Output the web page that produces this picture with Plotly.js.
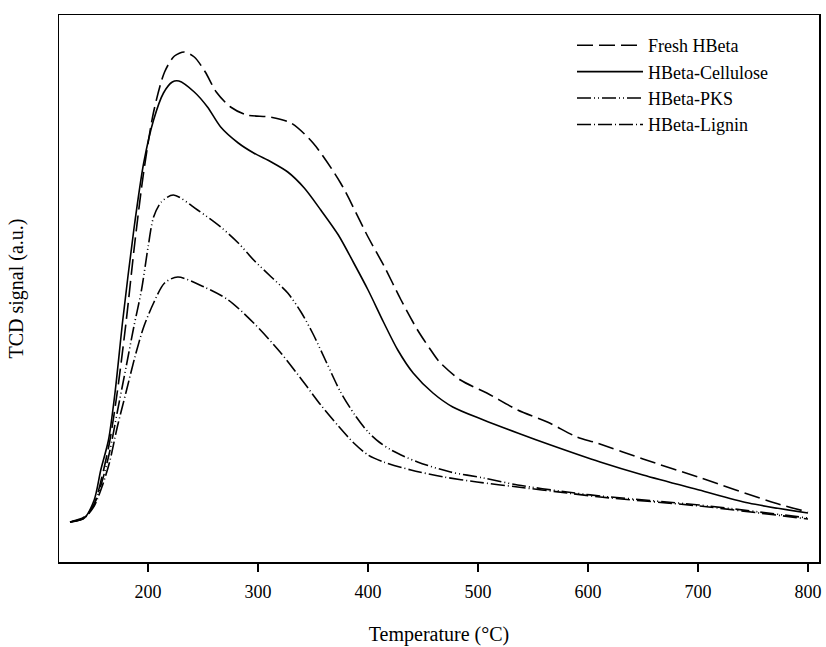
<!DOCTYPE html>
<html>
<head>
<meta charset="utf-8">
<script src="https://cdn.plot.ly/plotly-3.0.1.min.js"></script>
<style>html,body{margin:0;padding:0;background:#fff;}#chart{width:826px;height:647px;}</style>
</head>
<body>
<div id="chart"></div>
<script>
// Temperature (°C) and TCD signal (a.u.)
const freshT = [129,142,151,158,165,172,180,188,196,205,215,224,233,242,252,262,275,290,311,330,350,375,400,415,430,445,457,465,484,508,536,563,590,608,650,700,770,800];
const freshY = [40,45,58,85,120,170,240,320,390,450,490,506,510,505,490,470,455,447,445,439,419,379,325,295,262,232,212,200,182,169,152,140,125,119,103,85,59,50];

const celluloseT = [129,142,151,157,164,170,177,187,196,205,214,222,228,242,254,266,282,296,312,327,342,357,373,387,400,414,427,441,459,477,505,536,566,611,650,701,746,800];
const celluloseY = [40,44,62,92,122,170,242,332,399,442,469,480,481,470,455,435,419,409,400,390,374,352,327,299,272,240,212,189,169,155,142,129,117,100,87,72,59,49];

const pksT = [129,142,151,158,165,172,180,187,194,200,205,212,223,245,266,282,296,312,327,339,350,362,375,388,400,410,421,445,475,505,536,581,611,701,800];
const pksY = [40,44,58,80,110,150,195,235,272,315,345,360,367,352,335,319,302,285,269,250,228,200,170,147,130,120,112,100,90,84,77,70,66,57,44];

const ligninT = [129,142,151,158,165,172,180,188,196,205,215,227,251,273,296,320,342,357,373,387,400,414,439,469,499,536,581,611,701,800];
const ligninY = [40,44,56,75,100,135,170,205,235,259,279,285,275,262,239,210,179,157,136,119,107,100,92,85,80,75,69,65,56,43];

const seriesNames = ["Fresh HBeta","HBeta-Cellulose","HBeta-PKS","HBeta-Lignin"];
const xTicks = [200,300,400,500,600,700,800];

const serif = 'Liberation Serif, Times New Roman, serif';
const dashes = ["16px,6px","solid","14px,3px,1px,3px,1px,3px","14px,3px,1px,3px"];
const xs = [freshT, celluloseT, pksT, ligninT];
const ys = [freshY, celluloseY, pksY, ligninY];

const traces = xs.map((x,i)=>({
  x: x, y: ys[i], name: seriesNames[i], type:'scatter', mode:'lines',
  line:{color:'#000', width:1.6, dash:dashes[i], shape:'spline', smoothing:0.8}
}));

const layout = {
  width:826, height:647,
  margin:{l:59, r:7, t:15, b:85},
  paper_bgcolor:'#fff', plot_bgcolor:'#fff',
  font:{family:serif, color:'#000', size:17},
  showlegend:true,
  legend:{x:0.675, y:0.978, xanchor:'left', yanchor:'top', bgcolor:'rgba(0,0,0,0)',
          font:{size:18, family:serif, color:'#000'}, itemwidth:66},
  xaxis:{range:[119,810], tickvals:xTicks, ticktext:xTicks.map(String), ticks:'outside', ticklen:8, tickwidth:1.5, tickcolor:'#000',
         ticklabelstandoff:5,
         showline:true, mirror:true, linewidth:1.5, linecolor:'#000', showgrid:false, zeroline:false,
         tickfont:{size:18, family:serif, color:'#000'},
         title:{text:'Temperature (°C)', font:{size:20, family:serif, color:'#000'}, standoff:26}},
  yaxis:{range:[0,547], showticklabels:false, ticks:'', showline:true, mirror:true, linewidth:1.5, linecolor:'#000',
         showgrid:false, zeroline:false,
         title:{text:'TCD signal (a.u.)', font:{size:20, family:serif, color:'#000'}, standoff:28}}
};
Plotly.newPlot('chart', traces, layout, {displayModeBar:false, staticPlot:true});
</script>
</body>
</html>
